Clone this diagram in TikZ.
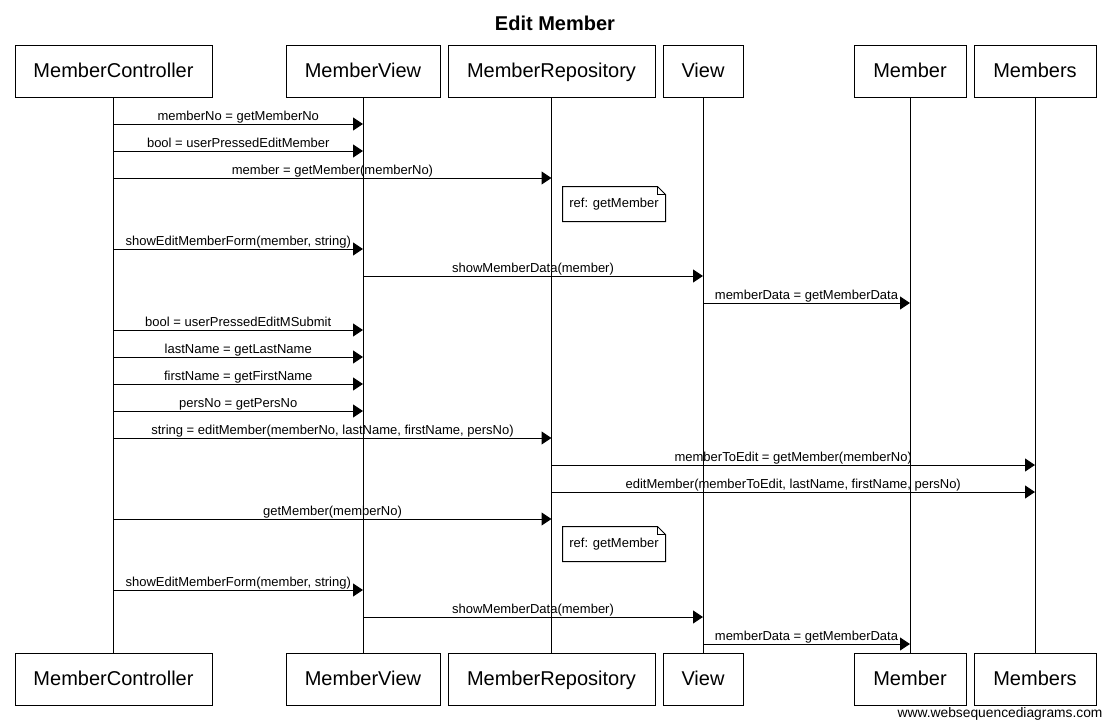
\documentclass[tikz,border=0pt]{standalone}
\usepackage{fontspec}
\setmainfont{Liberation Sans}
\usetikzlibrary{arrows.meta}

\begin{document}
\begin{tikzpicture}[
        x=1pt, y=-1pt,
        line width=1pt,
        actor/.style={shape=rectangle, draw, minimum height=52pt, inner sep=0pt, text height=15pt, text depth=3pt, font=\fontsize{20}{24}\selectfont},
        msg/.style={-{Triangle[length=10pt,width=13pt]}},
        lbl/.style={anchor=base, yshift=4pt, inner sep=0pt, font=\fontsize{13}{15}\selectfont},
        note/.style={shape=rectangle, minimum width=102pt, minimum height=34pt, inner sep=0pt, font=\fontsize{13}{15}\selectfont},
    ]
    \useasboundingbox (0,0) rectangle (1109,726);
    \node[font=\bfseries\fontsize{20}{24}\selectfont] (title) at (555,23) {Edit Member};

    % participants, top row
    \node[actor, minimum width=197pt] (mc) at (113.5,71) {MemberController};
    \node[actor, minimum width=154pt] (mv) at (363,71) {MemberView};
    \node[actor, minimum width=207pt] (mr) at (551.5,71) {MemberRepository};
    \node[actor, minimum width=80pt] (v) at (703,71) {View};
    \node[actor, minimum width=112pt] (m) at (910,71) {Member};
    \node[actor, minimum width=122pt] (ms) at (1035,71) {Members};

    % participants, bottom row
    \node[actor, minimum width=197pt] (mcb) at (113.5,679) {MemberController};
    \node[actor, minimum width=154pt] (mvb) at (363,679) {MemberView};
    \node[actor, minimum width=207pt] (mrb) at (551.5,679) {MemberRepository};
    \node[actor, minimum width=80pt] (vb) at (703,679) {View};
    \node[actor, minimum width=112pt] (mb) at (910,679) {Member};
    \node[actor, minimum width=122pt] (msb) at (1035,679) {Members};

    % lifelines
    \draw (mc) -- (mcb);
    \draw (mv) -- (mvb);
    \draw (mr) -- (mrb);
    \draw (v) -- (vb);
    \draw (m) -- (mb);
    \draw (ms) -- (msb);

    % messages
    \draw[msg] (mc |- 0,124) -- node[lbl] {memberNo = getMemberNo} (mv |- 0,124);
    \draw[msg] (mc |- 0,151) -- node[lbl] {bool = userPressedEditMember} (mv |- 0,151);
    \draw[msg] (mc |- 0,178) -- node[lbl] {member = getMember(memberNo)} (mr |- 0,178);

    \node[note] (ref1) at (614,204) {ref: getMember};
    \draw (ref1.north west) -- ([xshift=-8pt]ref1.north east) -- ([yshift=-8pt]ref1.north east)
        -- (ref1.south east) -- (ref1.south west) -- cycle;
    \draw ([xshift=-8pt]ref1.north east) |- ([yshift=-8pt]ref1.north east);

    \draw[msg] (mc |- 0,249) -- node[lbl] {showEditMemberForm(member, string)} (mv |- 0,249);
    \draw[msg] (mv |- 0,276) -- node[lbl] {showMemberData(member)} (v |- 0,276);
    \draw[msg] (v |- 0,303) -- node[lbl] {memberData = getMemberData} (m |- 0,303);
    \draw[msg] (mc |- 0,330) -- node[lbl] {bool = userPressedEditMSubmit} (mv |- 0,330);
    \draw[msg] (mc |- 0,357) -- node[lbl] {lastName = getLastName} (mv |- 0,357);
    \draw[msg] (mc |- 0,384) -- node[lbl] {firstName = getFirstName} (mv |- 0,384);
    \draw[msg] (mc |- 0,411) -- node[lbl] {persNo = getPersNo} (mv |- 0,411);
    \draw[msg] (mc |- 0,438) -- node[lbl] {string = editMember(memberNo, lastName, firstName, persNo)} (mr |- 0,438);
    \draw[msg] (mr |- 0,465) -- node[lbl] {memberToEdit = getMember(memberNo)} (ms |- 0,465);
    \draw[msg] (mr |- 0,492) -- node[lbl] {editMember(memberToEdit, lastName, firstName, persNo)} (ms |- 0,492);
    \draw[msg] (mc |- 0,519) -- node[lbl] {getMember(memberNo)} (mr |- 0,519);

    \node[note] (ref2) at (614,544) {ref: getMember};
    \draw (ref2.north west) -- ([xshift=-8pt]ref2.north east) -- ([yshift=-8pt]ref2.north east)
        -- (ref2.south east) -- (ref2.south west) -- cycle;
    \draw ([xshift=-8pt]ref2.north east) |- ([yshift=-8pt]ref2.north east);

    \draw[msg] (mc |- 0,590) -- node[lbl] {showEditMemberForm(member, string)} (mv |- 0,590);
    \draw[msg] (mv |- 0,617) -- node[lbl] {showMemberData(member)} (v |- 0,617);
    \draw[msg] (v |- 0,644) -- node[lbl] {memberData = getMemberData} (m |- 0,644);

    \node[anchor=base east, inner sep=0pt, font=\fontsize{13.8}{16}\selectfont] (wsd) at (1103,717) {www.websequencediagrams.com};
\end{tikzpicture}
\end{document}
